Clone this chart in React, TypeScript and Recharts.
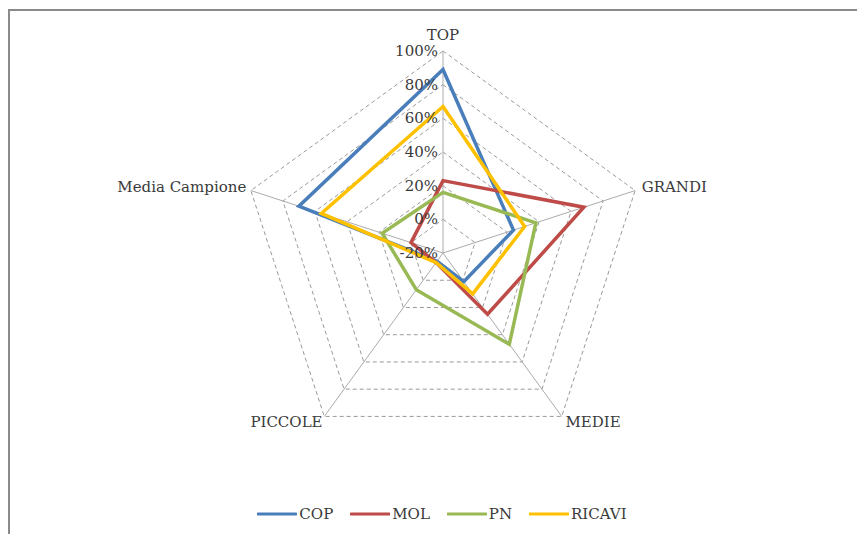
import React from "react";
import { RadarChart, Radar, PolarGrid, PolarAngleAxis, PolarRadiusAxis, Legend } from "recharts";

const categories = ["TOP", "GRANDI", "MEDIE", "PICCOLE", "Media Campione"];
const cop = [89, 24, 1, -14, 70];
const mol = [23, 68, 25, -13, 0];
const pn = [16, 38, 47, 7, 18];
const ricavi = [67, 31, 10, -13, 56];
const radiusTicks = [-20, 0, 20, 40, 60, 80, 100];

const seriesDefs = [
  { key: "COP", values: cop, color: "#4A7EBB" },
  { key: "MOL", values: mol, color: "#BE4B48" },
  { key: "PN", values: pn, color: "#98B954" },
  { key: "RICAVI", values: ricavi, color: "#FFC000" },
];

const data = categories.map((c, i) => {
  const row: any = { cat: c };
  seriesDefs.forEach((s) => (row[s.key] = s.values[i]));
  return row;
});

const FONT = "'DejaVu Serif', serif";
const FS = 15;

const AngleTick = (props: any) => {
  const { x, y, textAnchor, payload } = props;
  const isTop = payload.value === "TOP";
  return (
    <text
      x={textAnchor === "end" ? x + 3 : textAnchor === "start" ? x - 1 : x}
      y={isTop ? y - 3 : y - 1}
      textAnchor={textAnchor}
      dominantBaseline={isTop ? "auto" : "central"}
      fontFamily={FONT}
      fontSize={FS}
      fill="#3a3a3a"
    >
      {payload.value}
    </text>
  );
};

const RadiusTick = (props: any) => {
  const { x, y, payload } = props;
  return (
    <text
      x={x - 5}
      y={y}
      textAnchor="end"
      dominantBaseline="central"
      fontFamily={FONT}
      fontSize={FS}
      fill="#3a3a3a"
    >
      {payload.value + "%"}
    </text>
  );
};

const LegendContent = () => (
  <div
    style={{
      display: "flex",
      justifyContent: "center",
      alignItems: "center",
      fontFamily: FONT,
      fontSize: FS,
      color: "#3a3a3a",
      paddingLeft: 44,
    }}
  >
    {seriesDefs.map((s) => (
      <div key={s.key} style={{ display: "flex", alignItems: "center", marginRight: 17 }}>
        <svg width={40} height={6} style={{ marginRight: 2 }}>
          <line x1={1} y1={3} x2={39} y2={3} stroke={s.color} strokeWidth={3} strokeLinecap="round" />
        </svg>
        <span>{s.key}</span>
      </div>
    ))}
  </div>
);

export default function App() {
  return (
    <div
      style={{
        position: "absolute",
        left: 0,
        top: 0,
        width: 857,
        height: 534,
        overflow: "hidden",
        background: "#fff",
      }}
    >
      <div
        style={{
          position: "absolute",
          left: 8,
          top: 9,
          width: 1000,
          height: 1000,
          borderLeft: "2px solid #8a8a8a",
          borderTop: "2px solid #8a8a8a",
        }}
      />
      <div style={{ position: "absolute", left: 0, top: 0 }}>
        <RadarChart width={857} height={534} data={data} cx={443} cy={253} outerRadius={202} margin={{ top: 0, right: 0, bottom: 0, left: 0 }}>
          <PolarGrid gridType="polygon" radialLines={false} stroke="#9a9a9a" strokeDasharray="4 3" />
          <PolarGrid gridType="polygon" polarRadius={[0]} stroke="#ababab" />
          <PolarAngleAxis dataKey="cat" tick={<AngleTick />} tickLine={false} axisLine={false} />
          <PolarRadiusAxis
            angle={90}
            domain={[-20, 100]}
            ticks={radiusTicks as any}
            tickCount={7}
            tick={<RadiusTick />}
            axisLine={false}
            tickLine={false}
          />
          {seriesDefs.map((s) => (
            <Radar
              key={s.key}
              dataKey={s.key}
              stroke={s.color}
              strokeWidth={3.5}
              fill="none"
              fillOpacity={0}
              strokeLinejoin="miter"
              isAnimationActive={false}
            />
          ))}
          <Legend
            content={<LegendContent />}
            wrapperStyle={{ position: "absolute", top: 505, left: 0, width: 857 }}
          />
        </RadarChart>
      </div>
    </div>
  );
}
